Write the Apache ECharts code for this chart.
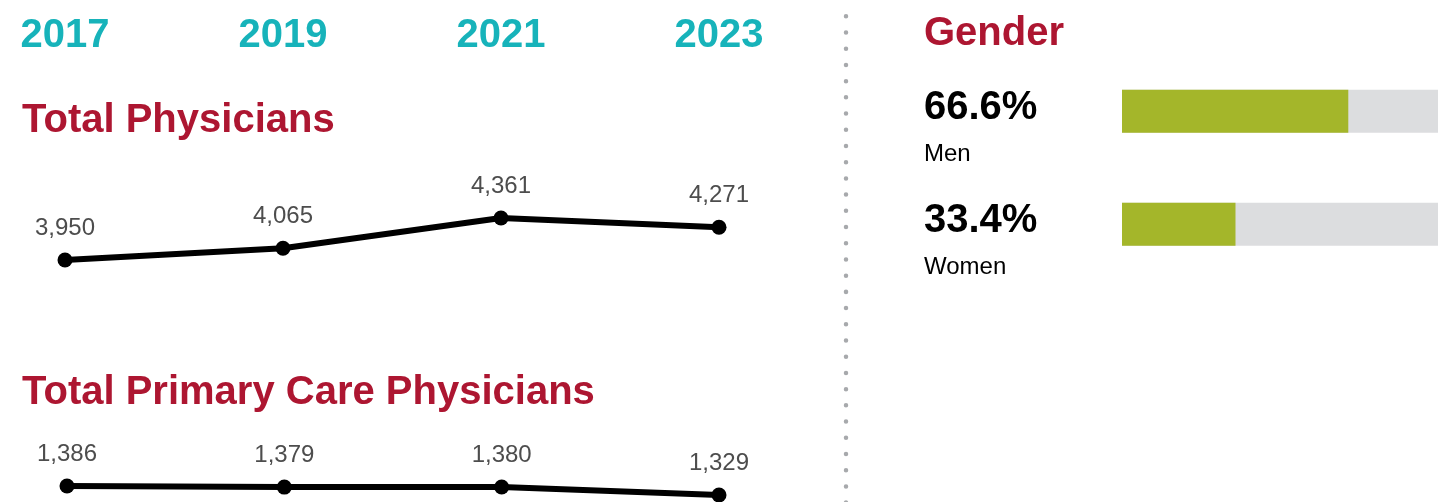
<!DOCTYPE html>
<html>
<head>
<meta charset="utf-8">
<script src="https://cdn.jsdelivr.net/npm/echarts@6/dist/echarts.min.js"></script>
<style>
  html, body { margin: 0; padding: 0; background: #fff; }
  #chart { width: 1438px; height: 502px; }
</style>
</head>
<body>
<div id="chart"></div>
<script>
// ---- Data ----
const years = ['2017', '2019', '2021', '2023'];
const totalPhysicians = [3950, 4065, 4361, 4271];
const primaryCare = [1386, 1379, 1380, 1329];
const genderCategories = ['Men', 'Women'];
const genderShare = [66.6, 33.4];

// ---- Style ----
const FONT = "'Liberation Sans', Arial, Helvetica, sans-serif";
const TEAL = '#17b3ba';
const CRIMSON = '#ad1631';
const GREEN = '#a4b62a';
const GREY_BAR = '#dcdddf';

const fmt = v => v.toLocaleString('en-US');

const chart = echarts.init(document.getElementById('chart'), null, { renderer: 'canvas' });

const lineSeriesCommon = {
  type: 'line',
  symbol: 'circle',
  symbolSize: 15,
  lineStyle: { color: '#000', width: 6 },
  itemStyle: { color: '#000' },
  silent: true,
  animation: false,
  label: {
    show: true,
    position: 'top',
    distance: 12,
    fontFamily: FONT,
    fontSize: 24,
    lineHeight: 24,
    color: '#4d4d4d',
    formatter: p => fmt(p.value)
  }
};

const titleCommon = {
  padding: 0,
  textStyle: { fontFamily: FONT, fontSize: 40, fontWeight: 'bold', color: CRIMSON, lineHeight: 40 }
};

chart.setOption({
  animation: false,
  backgroundColor: '#fff',
  title: [
    Object.assign({ text: 'Total Physicians', left: 22, top: 101 }, titleCommon),
    Object.assign({ text: 'Total Primary Care Physicians', left: 22, top: 373 }, titleCommon),
    Object.assign({ text: 'Gender', left: 924, top: 14 }, titleCommon)
  ],
  grid: [
    { left: 65, width: 654, top: 203.8, height: 102.2 },
    { left: 67, width: 652, top: 483.8, height: 15.8 },
    { left: 1122, right: 0, top: 54.8, height: 226 }
  ],
  xAxis: [
    {
      gridIndex: 0, type: 'category', data: years, position: 'top', boundaryGap: false,
      axisLine: { show: false }, axisTick: { show: false }, splitLine: { show: false },
      axisLabel: {
        interval: 0, margin: 168, verticalAlign: 'middle',
        fontFamily: FONT, fontSize: 40, fontWeight: 'bold', color: TEAL
      }
    },
    {
      gridIndex: 1, type: 'category', data: years, boundaryGap: false, show: false
    },
    {
      gridIndex: 2, type: 'value', min: 0, max: 93, show: false
    }
  ],
  yAxis: [
    { gridIndex: 0, type: 'value', min: 3500, max: 4500, show: false },
    { gridIndex: 1, type: 'value', min: 1300, max: 1400, show: false },
    {
      gridIndex: 2, type: 'category', data: genderCategories, inverse: true,
      axisLine: { show: false }, axisTick: { show: false }, splitLine: { show: false },
      axisLabel: {
        interval: 0, margin: 198, align: 'left',
        formatter: (val, idx) => '{v|' + genderShare[idx].toFixed(1) + '%}\n{n|' + val + '}',
        rich: {
          v: { fontFamily: FONT, fontSize: 40, fontWeight: 'bold', color: '#000', lineHeight: 86 },
          n: { fontFamily: FONT, fontSize: 24, color: '#000', lineHeight: 6 }
        }
      }
    }
  ],
  series: [
    Object.assign({ xAxisIndex: 0, yAxisIndex: 0, data: totalPhysicians }, lineSeriesCommon),
    Object.assign({ xAxisIndex: 1, yAxisIndex: 1, data: primaryCare }, lineSeriesCommon),
    {
      type: 'bar', xAxisIndex: 2, yAxisIndex: 2, data: genderShare,
      barWidth: 43, silent: true,
      itemStyle: { color: GREEN },
      showBackground: true,
      backgroundStyle: { color: GREY_BAR }
    }
  ],
  graphic: [
    {
      type: 'line', silent: true,
      shape: { x1: 846, y1: 16.3, x2: 846, y2: 510 },
      style: { stroke: '#a7a9ac', lineWidth: 4.5, lineCap: 'round', lineDash: [0.01, 16.2] }
    }
  ]
});
</script>
</body>
</html>
